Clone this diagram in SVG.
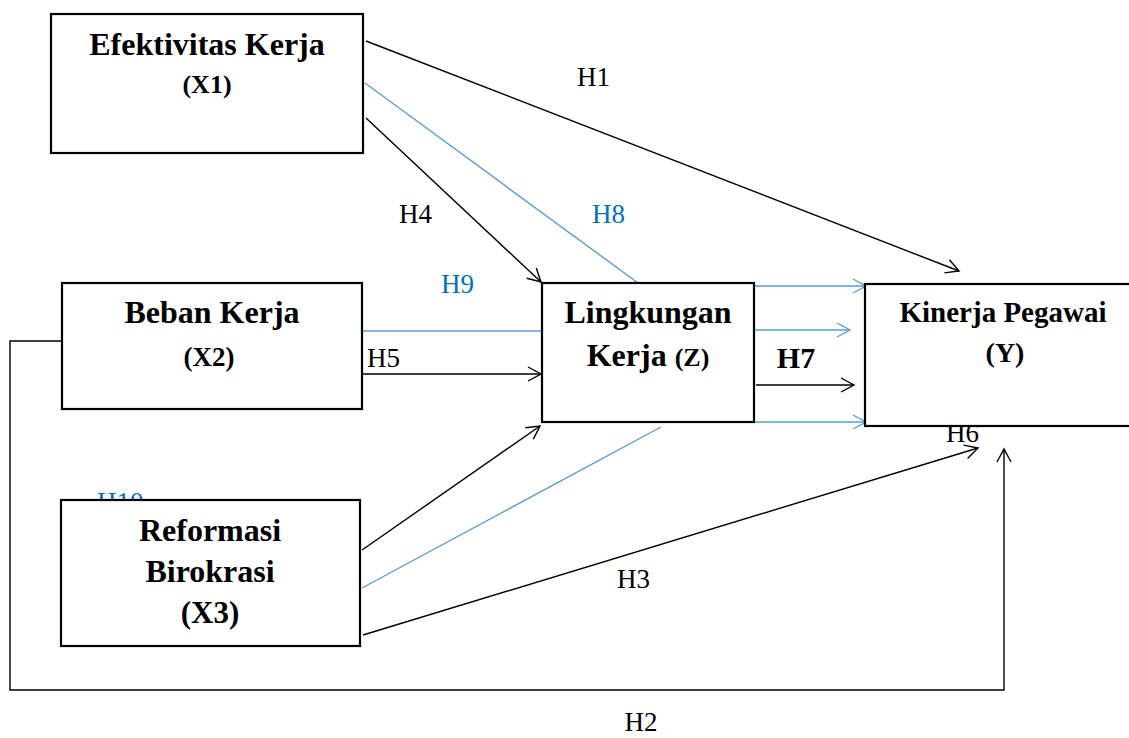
<svg xmlns="http://www.w3.org/2000/svg" width="1129" height="738" viewBox="0 0 1129 738">
<style>
.box{fill:#fff;stroke:#000;stroke-width:2.2}
.k{fill:none;stroke:#000;stroke-width:1.4}
.b{fill:none;stroke:#5B9BD5;stroke-width:1.4}
.t{font-family:"Liberation Serif","Times New Roman",serif;font-weight:bold;fill:#000;text-anchor:middle}
.l{font-family:"Liberation Serif","Times New Roman",serif;font-size:27px;fill:#000}
.lb{fill:#0070C0}
</style>
<defs>
<marker id="ak" markerUnits="userSpaceOnUse" markerWidth="16" markerHeight="16" refX="14" refY="8" orient="auto" overflow="visible">
<path d="M1,1 L14,8 L1,15" fill="none" stroke="#000" stroke-width="1.4"/>
</marker>
<marker id="ab" markerUnits="userSpaceOnUse" markerWidth="16" markerHeight="16" refX="14" refY="8" orient="auto" overflow="visible">
<path d="M1,1 L14,8 L1,15" fill="none" stroke="#5B9BD5" stroke-width="1.4"/>
</marker>
</defs>

<g id="connectors">
<line class="k" x1="366" y1="41" x2="959" y2="271" marker-end="url(#ak)"/>
<line class="b" x1="365" y1="83" x2="638" y2="283"/>
<line class="k" x1="366" y1="118" x2="541" y2="282" marker-end="url(#ak)"/>
<line class="b" x1="363" y1="331" x2="542" y2="331"/>
<line class="k" x1="363" y1="374" x2="541" y2="374" marker-end="url(#ak)"/>
<line class="k" x1="362" y1="550" x2="540" y2="426" marker-end="url(#ak)"/>
<line class="b" x1="362" y1="588" x2="661" y2="427"/>
<line class="k" x1="363" y1="635" x2="978" y2="448" marker-end="url(#ak)"/>
<line class="b" x1="754" y1="286" x2="866" y2="286" marker-end="url(#ab)"/>
<line class="b" x1="754" y1="330" x2="850" y2="330" marker-end="url(#ab)"/>
<line class="k" x1="756" y1="385" x2="854" y2="385" marker-end="url(#ak)"/>
<line class="b" x1="754" y1="422" x2="866" y2="422" marker-end="url(#ab)"/>
<polyline class="k" points="62,341 10,341 10,690 1004,690 1004,449" marker-end="url(#ak)"/>
</g>

<g id="labels">
<text class="l" x="577" y="86">H1</text>
<text class="l" x="399" y="223">H4</text>
<text class="l lb" x="592" y="223">H8</text>
<text class="l lb" x="441" y="293">H9</text>
<text class="l" x="367" y="367">H5</text>
<text class="l" x="617" y="588">H3</text>
<text class="l" x="946" y="442">H6</text>
<text class="l lb" x="97" y="511">H10</text>
<text class="l" x="641" y="731" text-anchor="middle">H2</text>
<text class="t" x="796" y="368" font-size="30">H7</text>
</g>

<g id="node-x1">
<rect class="box" x="51" y="14" width="312" height="139"/>
<text class="t" x="207" y="55" font-size="32">Efektivitas Kerja</text>
<text class="t" x="207" y="93" font-size="26">(X1)</text>
</g>

<g id="node-x2">
<rect class="box" x="62" y="283" width="300" height="126"/>
<text class="t" x="212" y="323" font-size="32">Beban Kerja</text>
<text class="t" x="209" y="366" font-size="27">(X2)</text>
</g>

<g id="node-x3">
<rect class="box" x="61" y="500" width="299" height="146"/>
<text class="t" x="210" y="541" font-size="32">Reformasi</text>
<text class="t" x="210" y="582" font-size="32">Birokrasi</text>
<text class="t" x="210" y="623" font-size="31">(X3)</text>
</g>

<g id="node-z">
<rect class="box" x="542" y="283" width="212" height="139"/>
<text class="t" x="648" y="323" font-size="32">Lingkungan</text>
<text class="t" x="648" y="366" font-size="32">Kerja <tspan font-size="26">(Z)</tspan></text>
</g>

<g id="node-y">
<rect class="box" x="865" y="284" width="280" height="142"/>
<text class="t" x="1003" y="322" font-size="29">Kinerja Pegawai</text>
<text class="t" x="1005" y="362" font-size="28">(Y)</text>
</g>
</svg>
